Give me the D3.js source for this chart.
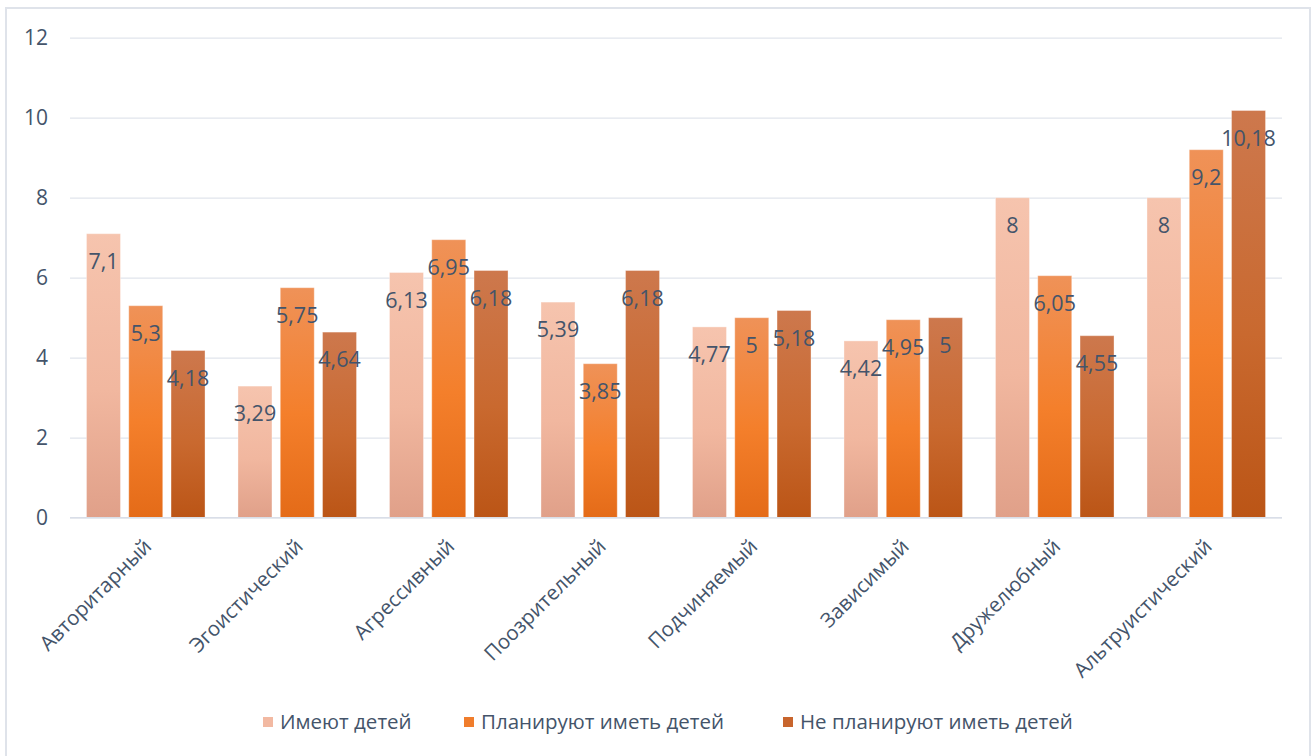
<!DOCTYPE html>
<html>
<head>
<meta charset="utf-8">
<script src="https://cdn.jsdelivr.net/npm/d3@7"></script>
<style>
  html, body { margin: 0; padding: 0; background: #fff; }
  svg { display: block; }
  text { font-family: "Open Sans", "Noto Sans", sans-serif; fill: #44546a; }
</style>
</head>
<body>
<svg id="chart" width="1316" height="756"></svg>
<script>
// Parent types by group
const categories = ["Авторитарный", "Эгоистический", "Агрессивный", "Поозрительный",
                    "Подчиняемый", "Зависимый", "Дружелюбный", "Альтруистический"];
const seriesNames = ["Имеют детей", "Планируют иметь детей", "Не планируют иметь детей"];
const haveChildren    = [7.1, 3.29, 6.13, 5.39, 4.77, 4.42, 8, 8];
const planChildren    = [5.3, 5.75, 6.95, 3.85, 5, 4.95, 6.05, 9.2];
const noPlanChildren  = [4.18, 4.64, 6.18, 6.18, 5.18, 5, 4.55, 10.18];
const yTicks = [0, 2, 4, 6, 8, 10, 12];

const seriesValues = [haveChildren, planChildren, noPlanChildren];

// gradient stops per series (top -> bottom)
const gradients = [
  [["0%", "#f6c4ae"], ["55%", "#f1b79f"], ["100%", "#e0a089"]],
  [["0%", "#ef9258"], ["55%", "#f47f2b"], ["100%", "#e46b18"]],
  [["0%", "#cd784d"], ["55%", "#c9692f"], ["100%", "#bb5516"]]
];
const swatchColors = ["#f2b9a2", "#f07d2c", "#c8652d"];

const svg = d3.select("#chart");

// outer frame
svg.append("rect")
  .attr("x", 6).attr("y", 8).attr("width", 1304).attr("height", 760)
  .attr("fill", "#fff").attr("stroke", "#dfe3ea").attr("stroke-width", 2);

const defs = svg.append("defs");
gradients.forEach((stops, i) => {
  const g = defs.append("linearGradient")
    .attr("id", "grad" + i)
    .attr("x1", 0).attr("y1", 0).attr("x2", 0).attr("y2", 1);
  stops.forEach(([off, col]) => g.append("stop").attr("offset", off).attr("stop-color", col));
});

const plotLeft = 70, plotRight = 1282, plotTop = 37.7, plotBottom = 517.7;

const y = d3.scaleLinear().domain([0, 12]).range([plotBottom, plotTop]);
const x0 = d3.scaleBand().domain(categories).range([plotLeft, plotRight]).padding(0);
const x1 = d3.scaleBand().domain(d3.range(seriesNames.length))
  .range([0, x0.bandwidth()]).paddingInner(0.196).paddingOuter(0.39);

// gridlines and y labels
const yAxis = d3.axisLeft(y).tickValues(yTicks).tickSize(-(plotRight - plotLeft)).tickPadding(22);
const gy = svg.append("g").attr("transform", `translate(${plotLeft},0)`).call(yAxis);
gy.select(".domain").remove();
gy.selectAll(".tick line").attr("stroke", "#e1e5ec").attr("stroke-width", 1.3);
gy.selectAll(".tick text").attr("font-size", 21).attr("fill", "#44546a")
  .style("font-family", "'Open Sans', sans-serif");

const fmt = v => String(v).replace(".", ",");

// bars
const groups = svg.append("g").selectAll("g")
  .data(categories).join("g")
  .attr("transform", d => `translate(${x0(d)},0)`);

groups.each(function (cat, ci) {
  const g = d3.select(this);
  seriesValues.forEach((vals, si) => {
    const v = vals[ci];
    g.append("rect")
      .attr("x", x1(si)).attr("y", y(v))
      .attr("width", x1.bandwidth()).attr("height", y(0) - y(v))
      .attr("fill", `url(#grad${si})`)
      .attr("stroke", "rgba(255,255,255,0.35)").attr("stroke-width", 1);
  });
});

// value labels
groups.each(function (cat, ci) {
  const g = d3.select(this);
  seriesValues.forEach((vals, si) => {
    const v = vals[ci];
    g.append("text")
      .attr("x", x1(si) + x1.bandwidth() / 2)
      .attr("y", y(v) + 35)
      .attr("text-anchor", "middle")
      .attr("font-size", 21.5)
      .text(fmt(v));
  });
});

// baseline
svg.append("line")
  .attr("x1", plotLeft).attr("x2", plotRight).attr("y1", y(0)).attr("y2", y(0))
  .attr("stroke", "#d9dee8").attr("stroke-width", 1.3);

// category labels
svg.append("g").selectAll("text")
  .data(categories).join("text")
  .attr("transform", d => `translate(${x0(d) + x0.bandwidth() / 2 + 7},${plotBottom + 30}) rotate(-45)`)
  .attr("text-anchor", "end")
  .attr("font-size", 20.5)
  .text(d => d);

// legend
const legendX = [263, 464, 783];
const legend = svg.append("g").selectAll("g")
  .data(seriesNames).join("g")
  .attr("transform", (d, i) => `translate(${legendX[i]},722)`);
legend.append("rect")
  .attr("x", 0).attr("y", -5).attr("width", 10).attr("height", 10)
  .attr("fill", (d, i) => swatchColors[i]);
legend.append("text")
  .attr("x", 17).attr("y", 0).attr("dy", "0.35em")
  .attr("font-size", 20.5)
  .text(d => d);
</script>
</body>
</html>
